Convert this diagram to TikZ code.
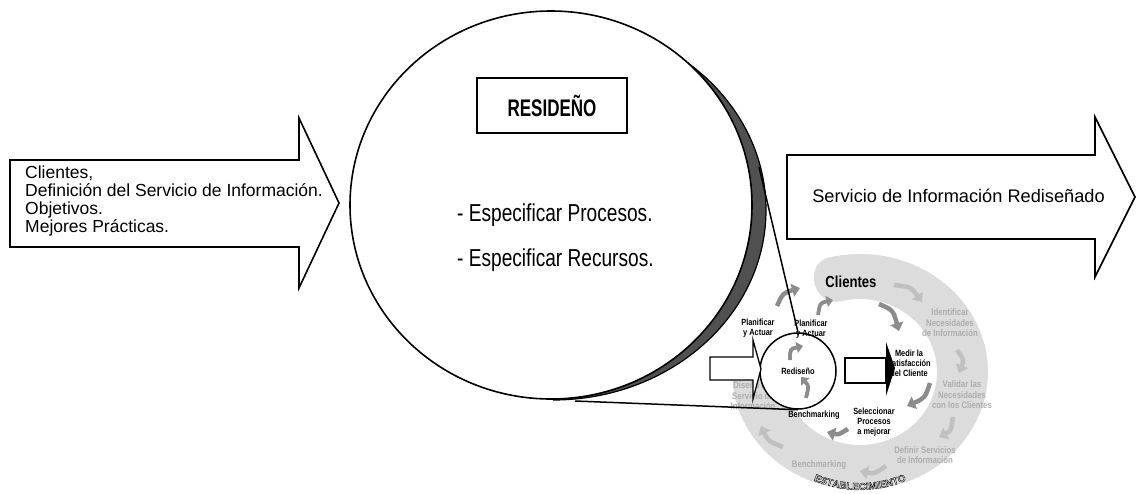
\documentclass[tikz,border=0pt]{standalone}
\usepackage{fontspec}
\setmainfont{Liberation Sans}
\newfontfamily\circfont[FakeStretch=0.78]{Liberation Sans}
\newfontfamily\titlefont[FakeStretch=0.71]{Liberation Sans}
\newfontfamily\smallfont[FakeStretch=0.82]{Liberation Sans}
\usetikzlibrary{arrows.meta,decorations.text,shapes.geometric}

\definecolor{band}{HTML}{DCDCDC}
\definecolor{lightarrow}{HTML}{C0C0C0}
\definecolor{darkarrow}{HTML}{8C8C8C}
\definecolor{labelgray}{HTML}{ADADAD}
\definecolor{shadowgray}{HTML}{505050}

% outlined (stroked) glyphs for the curved label
\newcommand{\hollowtext}{\special{pdf:literal direct 1 Tr 0.35 w}}

\begin{document}
\begin{tikzpicture}[x=1pt,y=-1pt,
  blockarrow/.style={draw=black,line width=1.6pt,fill=white,line join=miter},
  cyc/.style={line width=4.5pt,-{Triangle[length=8pt,width=13pt]}},
  cycsmall/.style={line width=3.8pt,-{Triangle[length=6.5pt,width=11pt]}},
  lightcyc/.style={cyc,draw=lightarrow},
  darkcyc/.style={cyc,draw=darkarrow},
  darksmall/.style={cycsmall,draw=darkarrow},
  smallbold/.style={font=\smallfont\bfseries\fontsize{9}{10}\selectfont,align=center,inner sep=0pt},
  graylabel/.style={font=\smallfont\bfseries\fontsize{9.5}{10.5}\selectfont,text=labelgray,align=center,inner sep=0pt},
  circtext/.style={font=\circfont\fontsize{24.5}{24.5}\selectfont,inner sep=0pt,anchor=base west},
  arrowtext/.style={inner sep=0pt}]
\useasboundingbox (0,0) rectangle (1136,493);

% ---------- improvement cycle: light C-shaped band ----------
\fill[band] (829,257.5) arc[start angle=-104,end angle=180,x radius=128,y radius=118]
  -- (783,372) arc[start angle=180,end angle=-104,x radius=77,y radius=73]
  .. controls (814,308) and (802,264) .. (829,257.5) -- cycle;

% outer loop arrows
\coordinate (o1s) at (894,285); \coordinate (o1e) at (922,302);
\coordinate (o2s) at (957,350); \coordinate (o2e) at (959,373);
\coordinate (o3s) at (953,417); \coordinate (o3e) at (939,437);
\coordinate (o4s) at (886,466); \coordinate (o4e) at (860,471);
\coordinate (o5s) at (783,447); \coordinate (o5e) at (761,426);
\coordinate (o6s) at (777,306); \coordinate (o6e) at (800,288);
\draw[lightcyc] (o1s) .. controls (911,287) .. (o1e);
\draw[lightcyc] (o2s) .. controls (964,360) .. (o2e);
\draw[lightcyc] (o3s) .. controls (951,431) .. (o3e);
\draw[lightcyc] (o4s) .. controls (874,474) .. (o4e);
\draw[lightcyc] (o5s) .. controls (768,441) .. (o5e);
\draw[darkcyc]  (o6s) .. controls (783,293) .. (o6e);

% outer loop labels
\node[graylabel] (ident) at (950,323) {Identificar\\Necesidades\\de Información};
\node[graylabel] (valid) at (962,395) {Validar las\\Necesidades\\con los Clientes};
\node[graylabel] (defin) at (925,455) {Definir Servicios\\de Información};
\node[graylabel] (bench2) at (819,465) {Benchmarking};
\node[graylabel] (disen) at (753,396) {Diseño del\\Servicio de\\Información};
\path[decorate,decoration={text along path,text align=center,
  text={|\hollowtext\bfseries\fontsize{10}{10}\selectfont|ESTABLECIMIENTO}}]
  (806.4,477.1) arc[start angle=117,end angle=63,radius=118];

% ---------- big circle with its crescent shadow ----------
\begin{scope}
  \clip (553,0) rectangle (800,420);
  \node[ellipse,fill=shadowgray,draw=black,line width=1.2pt,inner sep=0pt,
    minimum width=426,minimum height=380] (shadow) at (553,210) {};
\end{scope}
\node[ellipse,fill=white,draw=black,line width=1.6pt,inner sep=0pt,
  minimum width=402,minimum height=388] (big) at (551,205) {};
\node[draw,line width=1.3pt,minimum width=150,minimum height=55,inner sep=0pt,
  font=\titlefont\bfseries\fontsize{24}{24}\selectfont] (title) at (552,105.5) {RESIDEÑO};
\node[circtext] (proc) at (457,221) {- Especificar Procesos.};
\node[circtext] (recu) at (457,266) {- Especificar Recursos.};

% ---------- small redesign circle ----------
\node[circle,draw=black,fill=white,line width=1.5pt,minimum size=76,inner sep=0pt,
  font=\smallfont\bfseries\fontsize{9}{10}\selectfont] (redis) at (798,371) {Rediseño};

% callout lines from the big circle to the small one
\coordinate (cupper) at (759,167);
\coordinate (clower) at (575,401);
\draw[line width=1.5pt] (cupper) -- (redis.north);
\draw[line width=1.5pt] (clower) -- (redis.south);

% inner loop arrows
\coordinate (i1s) at (879,304); \coordinate (i1e) at (899,331);
\coordinate (i2s) at (930,383); \coordinate (i2e) at (907,406);
\coordinate (i3s) at (848,429); \coordinate (i3e) at (827,432);
\coordinate (i4s) at (806,398); \coordinate (i4e) at (801,377);
\coordinate (i5s) at (790,360); \coordinate (i5e) at (803,346);
\coordinate (i6s) at (818,315); \coordinate (i6e) at (833,300);
\draw[darkcyc] (i1s) .. controls (893,310) .. (i1e);
\draw[darkcyc] (i2s) .. controls (925,398) .. (i2e);
\draw[darkcyc] (i3s) .. controls (838,435) .. (i3e);
\draw[darksmall] (i4s) .. controls (809,386) .. (i4e);
\draw[darksmall] (i5s) .. controls (790,349) .. (i5e);
\draw[darksmall] (i6s) .. controls (820,303) .. (i6e);

% inner loop labels
\node[font=\smallfont\bfseries\fontsize{16}{16}\selectfont,inner sep=0pt] (clientes) at (851,282) {Clientes};
\node[smallbold] (planl) at (758,328) {Planificar\\y Actuar};
\node[smallbold] (planr) at (811,329) {Planificar\\y Actuar};
\node[smallbold] (bench1) at (814,415) {Benchmarking};
\node[smallbold] (selec) at (874,422) {Seleccionar\\Procesos\\a mejorar};
\node[smallbold] (medir) at (909,363) {Medir la\\Satisfacción\\del Cliente};

% small block arrows
\draw[blockarrow,line width=1.3pt] (710,357) -- (753,357) -- (753,340) -- (761,369)
  -- (753,399) -- (753,380) -- (710,380) -- cycle;
\draw[blockarrow,line width=1.3pt] (845,358) -- (886,358) -- (886,383) -- (845,383) -- cycle;
\fill[black] (886,342) -- (895,368) -- (886,396) -- cycle;

% ---------- large block arrows ----------
\draw[blockarrow] (10,160) -- (299,160) -- (299,118) -- (339,203) -- (299,288)
  -- (299,247) -- (10,247) -- cycle;
\node[arrowtext,anchor=north west,align=left,font=\fontsize{17.5}{18}\selectfont] (inputs) at (25,165.7)
  {Clientes,\\Definición del Servicio de Información.\\Objetivos.\\Mejores Prácticas.};

\draw[blockarrow] (787,155) -- (1095,155) -- (1095,117) -- (1135,197) -- (1095,277)
  -- (1095,239) -- (787,239) -- cycle;
\node[arrowtext,anchor=base,font=\fontsize{18.2}{18.2}\selectfont] (output) at (958.5,202)
  {Servicio de Información Rediseñado};
\end{tikzpicture}
\end{document}
